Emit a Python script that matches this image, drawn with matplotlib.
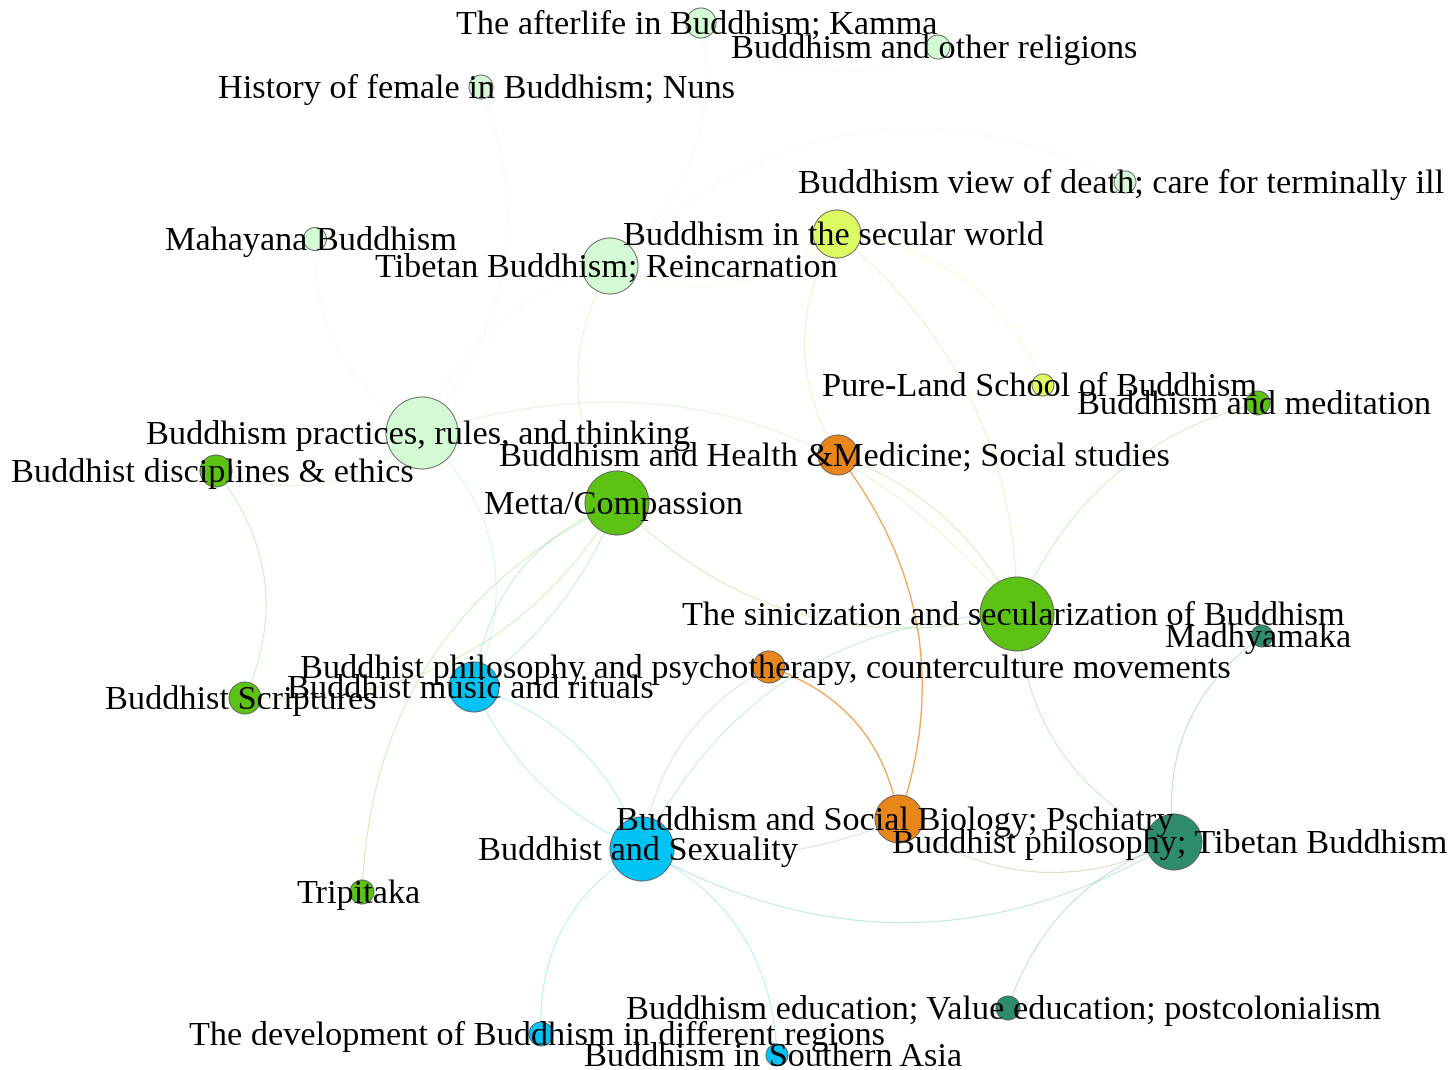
import matplotlib.pyplot as plt
from matplotlib.patches import Circle, FancyArrowPatch
from matplotlib.colors import to_rgb

# node table: label, x, y (picture coords, y down), radius, community
labels = [
    "The afterlife in Buddhism; Kamma",
    "Buddhism and other religions",
    "History of female in Buddhism; Nuns",
    "Buddhism view of death; care for terminally ill",
    "Mahayana Buddhism",
    "Buddhism in the secular world",
    "Tibetan Buddhism; Reincarnation",
    "Pure-Land School of Buddhism",
    "Buddhism and meditation",
    "Buddhism practices, rules, and thinking",
    "Buddhist disciplines & ethics",
    "Buddhism and Health &Medicine; Social studies",
    "Metta/Compassion",
    "The sinicization and secularization of Buddhism",
    "Madhyamaka",
    "Buddhist philosophy and psychotherapy, counterculture movements",
    "Buddhist music and rituals",
    "Buddhist Scriptures",
    "Buddhism and Social Biology; Pschiatry",
    "Buddhist philosophy; Tibetan Buddhism",
    "Buddhist and Sexuality",
    "Tripitaka",
    "Buddhism education; Value education; postcolonialism",
    "The development of Buddhism in different regions",
    "Buddhism in Southern Asia",
]
node_x = [701, 938, 481, 1125, 315, 837, 610, 1043, 1258, 422, 216, 838, 617,
          1017, 1262, 769, 474, 245, 899, 1174, 642, 362, 1008, 541, 777]
node_y = [23, 47, 87, 182, 239, 234, 266, 385, 403, 433, 471, 455, 503,
          614, 636, 667, 687, 698, 819, 842, 849, 892, 1008, 1034, 1055]
node_r = [15, 12, 12, 11, 11.5, 24, 28, 11, 12, 36, 16, 20, 32,
          37, 11, 16, 25, 16, 24, 28, 32, 12, 12, 12, 11]
community = [0, 0, 0, 0, 0, 1, 0, 1, 2, 0, 2, 3, 2,
             2, 4, 3, 5, 2, 3, 4, 5, 2, 4, 5, 5]

palette = ["#d3fbd3", "#dcfb62", "#5cc315", "#e8861a", "#2e8b6e", "#00c3f5"]

# edges: source, target, curvature
edges = [
    ("Buddhist Scriptures", "Buddhist disciplines & ethics", 0.3),
    ("Buddhism practices, rules, and thinking", "History of female in Buddhism; Nuns", 0.3),
    ("Mahayana Buddhism", "Buddhism practices, rules, and thinking", 0.3),
    ("Tibetan Buddhism; Reincarnation", "Buddhism practices, rules, and thinking", 0.25),
    ("Tibetan Buddhism; Reincarnation", "Metta/Compassion", 0.3),
    ("Tibetan Buddhism; Reincarnation", "Buddhism in the secular world", 0.3),
    ("Buddhism view of death; care for terminally ill", "Tibetan Buddhism; Reincarnation", 0.35),
    ("Tibetan Buddhism; Reincarnation", "The afterlife in Buddhism; Kamma", 0.3),
    ("The afterlife in Buddhism; Kamma", "Buddhism and other religions", 0.3),
    ("The sinicization and secularization of Buddhism", "Buddhism practices, rules, and thinking", 0.34),
    ("Buddhist music and rituals", "Buddhism practices, rules, and thinking", 0.35),
    ("Buddhist disciplines & ethics", "Buddhism practices, rules, and thinking", 0.3),
    ("Metta/Compassion", "Tripitaka", 0.3),
    ("Buddhist Scriptures", "Metta/Compassion", 0.3),
    ("Metta/Compassion", "Buddhist music and rituals", 0.3),
    ("Buddhist music and rituals", "Metta/Compassion", 0.15),
    ("Metta/Compassion", "The sinicization and secularization of Buddhism", 0.28),
    ("Buddhism and Social Biology; Pschiatry", "Buddhism and Health &Medicine; Social studies", 0.27),
    ("The sinicization and secularization of Buddhism", "Buddhism and Health &Medicine; Social studies", 0.2),
    ("Buddhism in the secular world", "Buddhism and Health &Medicine; Social studies", 0.3),
    ("Pure-Land School of Buddhism", "Buddhism in the secular world", 0.3),
    ("The sinicization and secularization of Buddhism", "Buddhism in the secular world", 0.24),
    ("Buddhism and meditation", "The sinicization and secularization of Buddhism", 0.25),
    ("The sinicization and secularization of Buddhism", "Buddhist philosophy; Tibetan Buddhism", 0.3),
    ("Madhyamaka", "Buddhist philosophy; Tibetan Buddhism", 0.3),
    ("Buddhism and Social Biology; Pschiatry", "Buddhist philosophy; Tibetan Buddhism", 0.3),
    ("Buddhist and Sexuality", "Buddhist philosophy; Tibetan Buddhism", 0.29),
    ("Buddhist philosophy; Tibetan Buddhism", "Buddhism education; Value education; postcolonialism", 0.25),
    ("Buddhist and Sexuality", "Buddhism and Social Biology; Pschiatry", 0.15),
    ("Buddhism and Social Biology; Pschiatry", "Buddhist philosophy and psychotherapy, counterculture movements", 0.3),
    ("Buddhist philosophy and psychotherapy, counterculture movements", "Buddhist and Sexuality", 0.25),
    ("The sinicization and secularization of Buddhism", "Buddhist and Sexuality", 0.3),
    ("Buddhist and Sexuality", "Buddhist music and rituals", 0.25),
    ("Buddhist music and rituals", "Buddhist and Sexuality", 0.2),
    ("Buddhist and Sexuality", "The development of Buddhism in different regions", 0.3),
    ("Buddhism in Southern Asia", "Buddhist and Sexuality", 0.3),
]

fig = plt.figure(figsize=(14.54, 10.70), dpi=100)
ax = fig.add_axes([0, 0, 1, 1])
ax.set_xlim(0, 1454)
ax.set_ylim(1070, 0)
ax.set_aspect("equal")
ax.axis("off")

idx = {lab: i for i, lab in enumerate(labels)}

for src, dst, rad in edges:
    a, b = idx[src], idx[dst]
    ca = to_rgb(palette[community[a]])
    cb = to_rgb(palette[community[b]])
    col = tuple((u + v) / 2 for u, v in zip(ca, cb))
    orange = community[a] == 3 and community[b] == 3
    p = FancyArrowPatch((node_x[a], node_y[a]), (node_x[b], node_y[b]),
                        arrowstyle="-", connectionstyle=f"arc3,rad={rad}",
                        shrinkA=0, shrinkB=0, color=col,
                        lw=1.0 if orange else 0.7,
                        alpha=0.75 if orange else 0.3, zorder=1)
    ax.add_patch(p)

for i, lab in enumerate(labels):
    ax.add_patch(Circle((node_x[i], node_y[i]), node_r[i],
                        facecolor=palette[community[i]], edgecolor="#555555",
                        lw=0.6, zorder=2))

for i, lab in enumerate(labels):
    ax.text(node_x[i] - 4, node_y[i] + 11, lab, ha="center", va="baseline",
            fontsize=24.7, family=["Liberation Serif", "DejaVu Serif"],
            color="black", zorder=3)

fig.savefig("out.png", dpi=100, facecolor="white")
